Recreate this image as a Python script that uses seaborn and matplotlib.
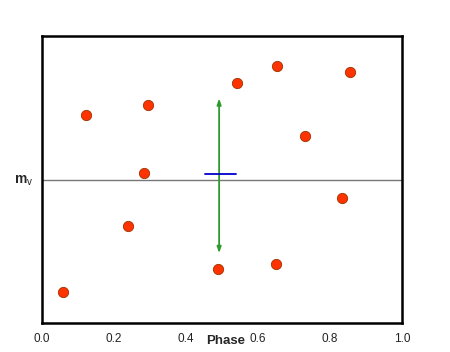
import matplotlib
matplotlib.use("Agg")
import matplotlib.pyplot as plt
import seaborn as sns
import pandas as pd

# phase / brightness samples (y in arbitrary units, 0 = bottom)
phase = [0.058, 0.122, 0.294, 0.282, 0.238, 0.490, 0.543, 0.652, 0.651, 0.731, 0.834, 0.856]
mag = [0.107, 0.725, 0.761, 0.521, 0.339, 0.187, 0.836, 0.894, 0.204, 0.652, 0.437, 0.876]

x_ticks = [0.0, 0.2, 0.4, 0.6, 0.8, 1.0]
mean_level = 0.497
amp_x = 0.492
amp_low, amp_high = 0.243, 0.783
bar_x = [0.453, 0.538]
bar_y = 0.52

sns.set_style("white")
plt.rcParams['font.family'] = ['Liberation Sans', 'DejaVu Sans']
plt.rcParams['mathtext.fontset'] = 'custom'
plt.rcParams['mathtext.rm'] = 'Liberation Sans'
plt.rcParams['mathtext.bf'] = 'Liberation Sans:bold'

df = pd.DataFrame({"phase": phase, "mag": mag})

fig = plt.figure(figsize=(4.5, 3.52), dpi=100)
ax = fig.add_axes([42 / 450, 29 / 352, 360 / 450, 287 / 352])

ax.axhline(mean_level, color="#777777", lw=1, zorder=1)
ax.annotate("", xy=(amp_x, amp_high), xytext=(amp_x, amp_low),
            arrowprops=dict(arrowstyle="<|-|>,head_length=0.35,head_width=0.12",
                            color="#2e9a2e", lw=1.3, shrinkA=0, shrinkB=0), zorder=2)
ax.plot(bar_x, [bar_y, bar_y], color="#0000cc", lw=1.3, zorder=3)

sns.scatterplot(data=df, x="phase", y="mag", ax=ax, s=55, color="#ff3300",
                edgecolor="#993300", linewidth=0.6, zorder=4, legend=False)

ax.set_xlim(0, 1)
ax.set_ylim(0, 1)
ax.set_xticks(x_ticks)
ax.set_xticklabels([f"{t:.1f}" for t in x_ticks], fontsize=8.5, color="#222222")
ax.set_yticks([])
ax.tick_params(axis="x", length=0, pad=7)
ax.set_xlabel("")
ax.set_ylabel("")
for sp in ax.spines.values():
    sp.set_color("black")
    sp.set_linewidth(1.8)

ax.text(0.511, -0.063, "Phase", transform=ax.transAxes, ha="center", va="center",
        fontsize=9.5, fontweight="bold")
ax.text(-0.025, mean_level, r"$\mathbf{m}_\mathrm{v}$", transform=ax.transAxes,
        ha="right", va="center", fontsize=10)

fig.savefig("out.png", dpi=100)
